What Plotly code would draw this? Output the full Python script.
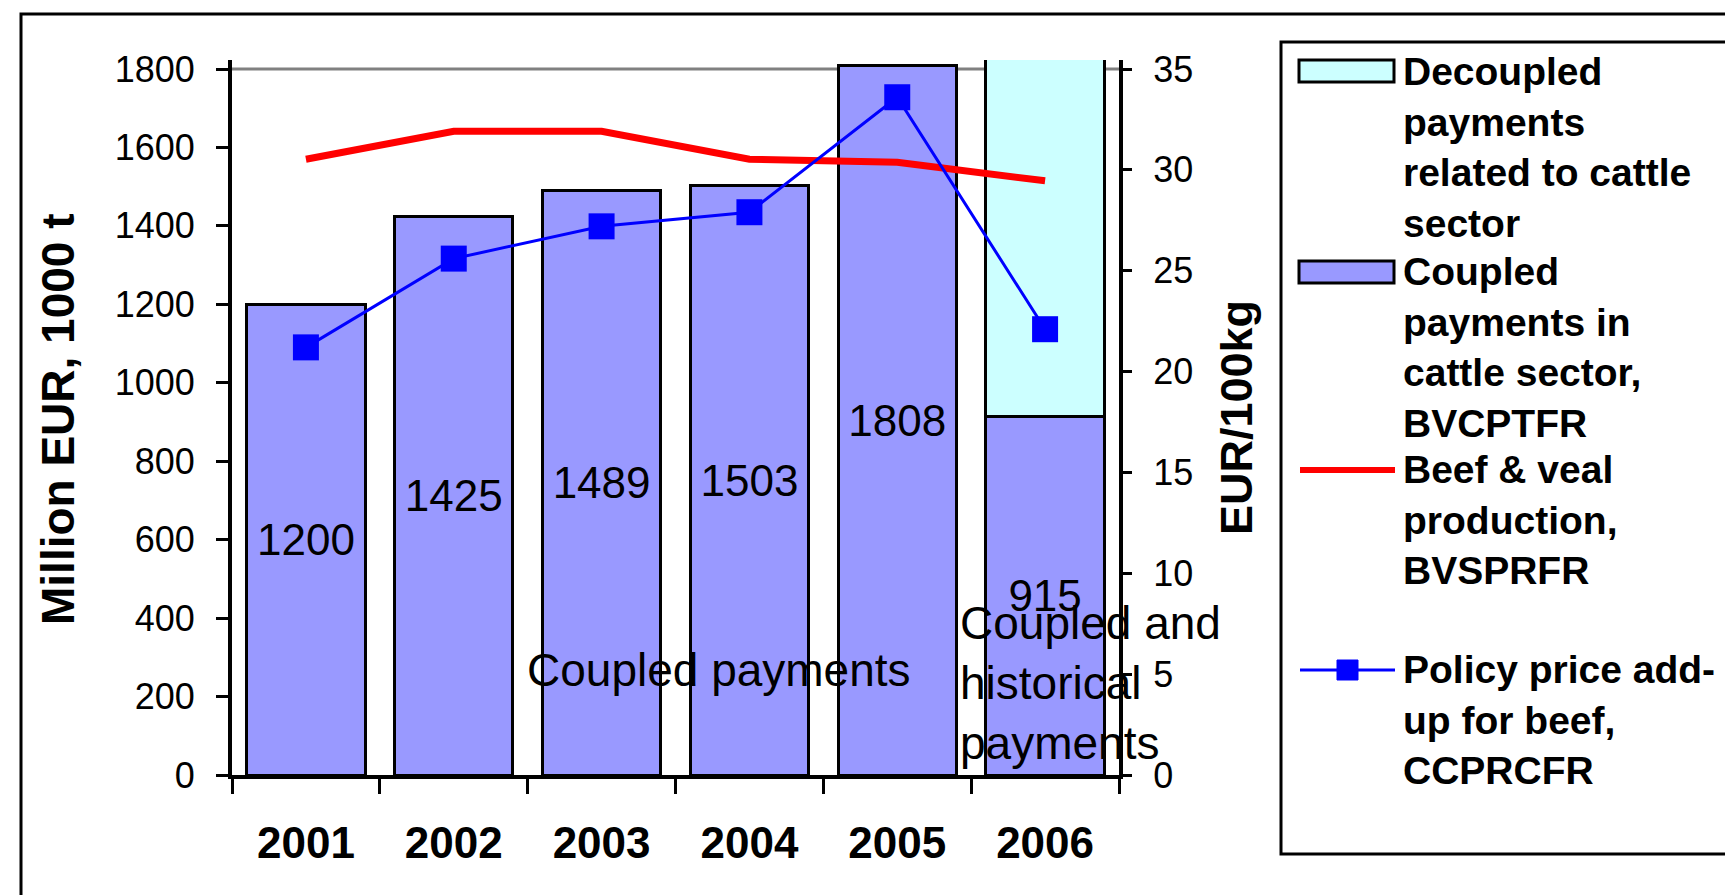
import plotly.graph_objects as go

# ---------------- data ----------------
years = ["2001", "2002", "2003", "2004", "2005", "2006"]
coupled_payments = [1200, 1425, 1489, 1503, 1808, 915]      # Million EUR
decoupled_years = ["2006"]
decoupled_payments = [1000]                                  # Million EUR (top clipped in source)
beef_veal_production = [1570, 1641, 1641, 1570, 1562, 1515]  # 1000 t
policy_price_addup = [21.2, 25.6, 27.2, 27.9, 33.6, 22.1]    # EUR/100kg

left_ticks = [0, 200, 400, 600, 800, 1000, 1200, 1400, 1600, 1800]
right_ticks = [0, 5, 10, 15, 20, 25, 30, 35]

legend_texts = [
    "Decoupled<br>payments<br>related to cattle<br>sector",
    "Coupled<br>payments in<br>cattle sector,<br>BVCPTFR",
    "Beef & veal<br>production,<br>BVSPRFR",
    "Policy price add-<br>up for beef,<br>CCPRCFR",
]

# ---------------- style ----------------
FONT = "Liberation Sans, Arial, sans-serif"
C_COUPLED = "#9999FF"
C_DECOUPLED = "#CCFFFF"
C_RED = "#FF0000"
C_BLUE = "#0000FF"

W, H = 1733, 895
L, R, T, B = 224, 1111, 52, 767
PW, PH = R - L, B - T
YMAX = 1800 * PH / (B - 61)
Y2MAX = 35 * YMAX / 1800


def px(x):
    return (x - L) / PW


def py(y):
    return (B - y) / PH


fig = go.Figure()

fig.add_trace(go.Bar(
    x=years, y=coupled_payments, name="Coupled payments in cattle sector, BVCPTFR",
    marker=dict(color=C_COUPLED, line=dict(color="black", width=3)),
    text=[str(v) for v in coupled_payments], textposition="inside",
    insidetextanchor="middle", constraintext="none", textangle=0,
    textfont=dict(family=FONT, size=44, color="black"),
    showlegend=False, yaxis="y",
))
fig.add_trace(go.Bar(
    x=decoupled_years, y=decoupled_payments,
    name="Decoupled payments related to cattle sector",
    marker=dict(color=C_DECOUPLED, line=dict(color="black", width=3)),
    showlegend=False, yaxis="y",
))
fig.add_trace(go.Scatter(
    x=years, y=beef_veal_production, name="Beef & veal production, BVSPRFR",
    mode="lines", line=dict(color=C_RED, width=7),
    showlegend=False, yaxis="y",
))
fig.add_trace(go.Scatter(
    x=years, y=policy_price_addup, name="Policy price add-up for beef, CCPRCFR",
    mode="lines+markers", line=dict(color=C_BLUE, width=3),
    marker=dict(symbol="square", size=26, color=C_BLUE),
    showlegend=False, yaxis="y2",
))

shapes = [
    # gray line at 1800
    dict(type="line", xref="paper", yref="y", x0=0, x1=1, y0=1800, y1=1800,
         line=dict(color="#808080", width=3), layer="below"),
    # outer frame
    dict(type="rect", xref="paper", yref="paper", x0=px(13), x1=px(1727),
         y0=py(915), y1=py(6), line=dict(color="black", width=3)),
    # legend box
    dict(type="rect", xref="paper", yref="paper", x0=px(1273), x1=px(1725),
         y0=py(846), y1=py(34), line=dict(color="black", width=3)),
    # legend symbols
    dict(type="rect", xref="paper", yref="paper", x0=px(1291), x1=px(1386),
         y0=py(74), y1=py(52), fillcolor=C_DECOUPLED, line=dict(color="black", width=3)),
    dict(type="rect", xref="paper", yref="paper", x0=px(1291), x1=px(1386),
         y0=py(275), y1=py(253), fillcolor=C_COUPLED, line=dict(color="black", width=3)),
    dict(type="line", xref="paper", yref="paper", x0=px(1292), x1=px(1387),
         y0=py(462), y1=py(462), line=dict(color=C_RED, width=6)),
    dict(type="line", xref="paper", yref="paper", x0=px(1292), x1=px(1387),
         y0=py(662), y1=py(662), line=dict(color=C_BLUE, width=3)),
    dict(type="rect", xref="paper", yref="paper", x0=px(1329), x1=px(1350),
         y0=py(672), y1=py(652), fillcolor=C_BLUE, line=dict(color=C_BLUE, width=1)),
]

annotations = [
    dict(text="Coupled payments", xref="paper", yref="paper", x=px(711), y=py(662),
         xanchor="center", yanchor="middle", showarrow=False,
         font=dict(family=FONT, size=46, color="black")),
    dict(text="Coupled and<br>historical<br>payments", xref="paper", yref="paper",
         x=px(950), y=py(675), xanchor="left", yanchor="middle", align="left",
         showarrow=False, font=dict(family=FONT, size=46, color="black")),
    dict(text="<b>Million EUR, 1000 t</b>", xref="paper", yref="paper",
         x=px(50), y=py(411), textangle=-90, xanchor="center", yanchor="middle",
         showarrow=False, font=dict(family=FONT, size=46, color="black")),
    dict(text="<b>EUR/100kg</b>", xref="paper", yref="paper",
         x=px(1228), y=py(410), textangle=-90, xanchor="center", yanchor="middle",
         showarrow=False, font=dict(family=FONT, size=45, color="black")),
]

legend_centers = [139, 339, 512, 712]
for txt, cy in zip(legend_texts, legend_centers):
    annotations.append(dict(
        text="<b>" + txt + "</b>", xref="paper", yref="paper", x=px(1393), y=py(cy),
        xanchor="left", yanchor="middle", align="left", showarrow=False,
        font=dict(family=FONT, size=39, color="black")))

fig.update_layout(
    width=W, height=H,
    margin=dict(l=L, r=W - R, t=T, b=H - B, autoexpand=False),
    paper_bgcolor="white", plot_bgcolor="white",
    barmode="stack", bargap=0.2,
    showlegend=False,
    font=dict(family=FONT, color="black"),
    xaxis=dict(
        type="category", categoryorder="array", categoryarray=years,
        range=[-0.5, 5.5], showline=True, linecolor="black", linewidth=4,
        ticks="outside", tickson="boundaries", ticklen=15, tickwidth=3, tickcolor="black",
        tickfont=dict(family=FONT, size=44, color="black", weight="bold"),
        ticklabelstandoff=26, showgrid=False, zeroline=False, fixedrange=True,
    ),
    yaxis=dict(
        range=[0, YMAX], tickvals=left_ticks, showline=True, linecolor="black",
        linewidth=4, ticks="outside", ticklen=12, tickwidth=3, tickcolor="black",
        tickfont=dict(family=FONT, size=36, color="black"), ticklabelstandoff=14,
        showgrid=False, zeroline=False, fixedrange=True,
    ),
    yaxis2=dict(
        overlaying="y", side="right", range=[0, Y2MAX], tickvals=right_ticks,
        showline=True, linecolor="black", linewidth=4, ticks="outside", ticklen=9,
        tickwidth=3, tickcolor="black",
        tickfont=dict(family=FONT, size=36, color="black"), ticklabelstandoff=14,
        showgrid=False, zeroline=False, fixedrange=True,
    ),
    shapes=shapes,
    annotations=annotations,
)

fig.write_html("out.html")
